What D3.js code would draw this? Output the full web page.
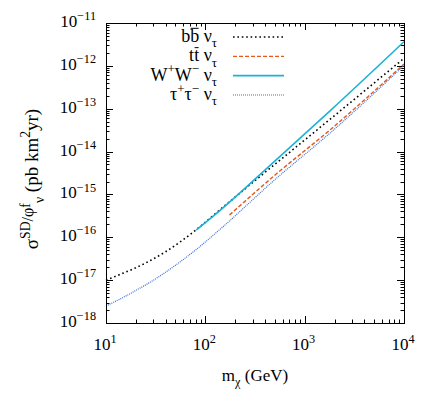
<!DOCTYPE html>
<html>
<head>
<meta charset="utf-8">
<script src="https://cdn.jsdelivr.net/npm/d3@7/dist/d3.min.js"></script>
<style>
  body { margin: 0; background: #fff; }
</style>
</head>
<body>
<div id="chart"></div>
<script>
(function () {

  // values: [m_chi in GeV, sigma/phi]
  var bbSeries = [[10, 1.0e-17], [14.1, 1.38e-17], [20, 1.95e-17], [28.2, 2.9e-17], [39.8, 4.6e-17],
    [56.2, 7.9e-17], [79.4, 1.45e-16], [150, 5.0e-16], [300, 1.9e-15], [1000, 1.86e-14],
    [3000, 1.5e-13], [10000, 1.5e-12]];
  var ttSeries = [[175, 3.3e-16], [500, 2.8e-15], [1800, 3.2e-14], [10000, 1.1e-12]];
  var wwSeries = [[81, 1.48e-16], [140, 4.2e-16], [500, 6.0e-15], [1800, 8.9e-14], [10000, 3.65e-12]];
  var tauSeries = [[10, 2.5e-18], [14.1, 3.7e-18], [20, 5.75e-18], [28.2, 9.1e-18], [39.8, 1.53e-17],
    [56.2, 2.7e-17], [79.4, 5.0e-17], [140, 1.52e-16], [500, 2.2e-15], [1800, 2.7e-14], [10000, 1.02e-12]];

  var xTicks = [10, 100, 1000, 10000];
  var yTicks = [1e-18, 1e-17, 1e-16, 1e-15, 1e-14, 1e-13, 1e-12, 1e-11];

  var serif = "Liberation Serif";

  var w = 433, h = 405,
    left = 106, right = 404, top = 23, bottom = 323;

  var svg = d3.select("#chart").append("svg")
    .attr("width", w)
    .attr("height", h);

  var x = d3.scaleLog().domain([10, 1e4]).range([left, right]);
  var y = d3.scaleLog().domain([1e-18, 1e-11]).range([bottom, top]);

  // series styles (gnuplot look)
  var series = [
    { data: bbSeries, color: "#000000", dash: "1.6,2.8", width: 1.6 },
    { data: ttSeries, color: "#e35a1a", dash: "4,2", width: 1.4 },
    { data: wwSeries, color: "#1ab2d8", dash: null, width: 1.6 },
    { data: tauSeries, color: "#3f72dc", dash: "1,1", width: 1.2 }
  ];

  // minor + major ticks on all four sides, pointing inward
  var xMinor = [];
  for (var d = 10; d < 1e4; d *= 10) {
    for (var k = 1; k < 10; k++) xMinor.push(d * k);
  }
  xMinor.push(1e4);
  var yMinor = [];
  for (var e = -18; e < -11; e++) {
    for (var j = 1; j < 10; j++) yMinor.push(j * Math.pow(10, e));
  }
  yMinor.push(1e-11);

  function isMajor(v) {
    var l = Math.log10(v);
    return Math.abs(l - Math.round(l)) < 1e-6;
  }

  var tickG = svg.append("g").attr("stroke", "#000").attr("stroke-width", 1);
  xMinor.forEach(function (v) {
    var len = isMajor(v) ? 7 : 3.5;
    var px = Math.round(x(v)) + 0.5;
    tickG.append("line").attr("x1", px).attr("x2", px).attr("y1", bottom).attr("y2", bottom - len);
    tickG.append("line").attr("x1", px).attr("x2", px).attr("y1", top).attr("y2", top + len);
  });
  yMinor.forEach(function (v) {
    var len = isMajor(v) ? 7 : 3.5;
    var py = Math.round(y(v)) + 0.5;
    tickG.append("line").attr("x1", left).attr("x2", left + len).attr("y1", py).attr("y2", py);
    tickG.append("line").attr("x1", right).attr("x2", right - len).attr("y1", py).attr("y2", py);
  });

  // the curves
  var line = d3.line()
    .x(function (d) { return x(d[0]); })
    .y(function (d) { return y(d[1]); })
    .curve(d3.curveMonotoneX);

  series.forEach(function (s) {
    svg.append("path")
      .attr("d", line(s.data))
      .attr("fill", "none")
      .attr("stroke", s.color)
      .attr("stroke-width", s.width)
      .attr("stroke-dasharray", s.dash);
  });

  // frame
  svg.append("rect")
    .attr("x", left + 0.5).attr("y", top + 0.5)
    .attr("width", right - left).attr("height", bottom - top)
    .attr("fill", "none").attr("stroke", "#000").attr("stroke-width", 1);

  // rich text helper: parts are [text, "sup"|"sub"|"over"|"mid"|null]
  function richText(g, parts, size) {
    var t = g.append("text")
      .attr("font-family", serif)
      .attr("font-size", size)
      .attr("fill", "#000");
    var shift = 0, overs = [];
    parts.forEach(function (p) {
      var target = p[1] === "sup" ? -0.4 * size : p[1] === "sub" ? 0.3 * size : p[1] === "mid" ? -0.25 * size : 0;
      var ts = t.append("tspan").text(p[0]).attr("dy", target - shift);
      if (p[1] === "sup" || p[1] === "sub") ts.attr("font-size", size * 0.72);
      if (p[1] === "mid") ts.attr("font-size", size * 0.85);
      if (p[1] === "over") overs.push(ts);
      shift = target;
    });
    return { text: t, overs: overs };
  }

  // draw a bar over the marked letters (anti-quarks)
  function drawOverlines(g, overs, size) {
    overs.forEach(function (ts) {
      var b = ts.node().getBBox();
      g.append("line")
        .attr("x1", b.x + 0.5).attr("x2", b.x + b.width - 0.5)
        .attr("y1", -0.76 * size).attr("y2", -0.76 * size)
        .attr("stroke", "#000").attr("stroke-width", 1);
    });
  }

  // x tick labels
  xTicks.forEach(function (v) {
    var g = svg.append("g").attr("transform", "translate(" + (x(v) - 1) + ",350)");
    richText(g, [["10", null], [String(Math.round(Math.log10(v))), "sup"]], 17)
      .text.attr("text-anchor", "middle");
  });

  // y tick labels
  yTicks.forEach(function (v) {
    var g = svg.append("g").attr("transform", "translate(96," + (y(v) + 4) + ")");
    richText(g, [["10", null], ["\u2212" + Math.abs(Math.round(Math.log10(v))), "sup"]], 17)
      .text.attr("text-anchor", "end");
  });

  // axis titles
  var xt = svg.append("g").attr("transform", "translate(255,381)");
  richText(xt, [["m", null], ["\u03c7", "sub"], [" (GeV)", null]], 17).text.attr("text-anchor", "middle");

  var yt = svg.append("g").attr("transform", "translate(38,179) rotate(-90)");
  richText(yt, [["\u03c3", null], ["SD", "sup"], ["/\u03c6", "mid"], ["f", "sup"], ["\u03bd", "sub"],
    [" (pb km", null], ["2", "sup"], ["yr)", null]], 19).text.attr("text-anchor", "middle");

  // legend
  var legendLabels = [
    [["b", null], ["b", "over"], [" \u03bd", null], ["\u03c4", "sub"]],
    [["t", null], ["t", "over"], [" \u03bd", null], ["\u03c4", "sub"]],
    [["W", null], ["+", "sup"], ["W", null], ["\u2212", "sup"], [" \u03bd", null], ["\u03c4", "sub"]],
    [["\u03c4", null], ["+", "sup"], ["\u03c4", null], ["\u2212", "sup"], [" \u03bd", null], ["\u03c4", "sub"]]
  ];
  var legendY = d3.scalePoint().domain(d3.range(series.length)).range([37, 95]);

  series.forEach(function (s, i) {
    var ly = legendY(i);
    svg.append("line")
      .attr("x1", 233).attr("x2", 284)
      .attr("y1", ly).attr("y2", ly)
      .attr("stroke", s.color)
      .attr("stroke-width", s.width)
      .attr("stroke-dasharray", s.dash);
    var g = svg.append("g").attr("transform", "translate(217," + (ly + 5) + ")");
    var r = richText(g, legendLabels[i], 18);
    r.text.attr("text-anchor", "end");
    drawOverlines(g, r.overs, 18);
  });

})();
</script>
</body>
</html>
